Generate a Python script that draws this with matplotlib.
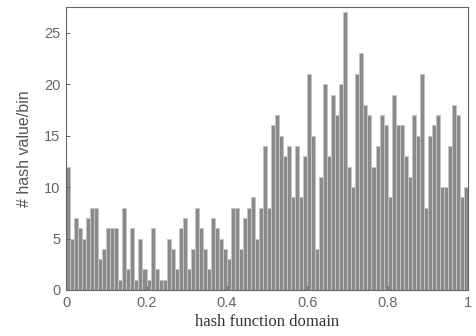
import matplotlib.pyplot as plt
import numpy as np

# hash counts per bin, 100 equal bins over [0, 1]
counts = [
    12, 5, 7, 6, 5, 7, 8, 8, 3, 4,
    6, 6, 6, 1, 8, 2, 6, 1, 5, 2,
    1, 6, 2, 1, 1, 5, 4, 2, 6, 7,
    2, 4, 8, 6, 4, 2, 7, 6, 5, 4,
    3, 8, 8, 4, 7, 8, 9, 5, 8, 14,
    8, 16, 17, 15, 13, 14, 9, 14, 9, 13,
    21, 15, 4, 11, 20, 13, 19, 17, 20, 27,
    12, 10, 21, 23, 18, 17, 12, 14, 17, 16,
    9, 19, 16, 16, 13, 11, 17, 15, 21, 8,
    15, 16, 17, 10, 10, 14, 18, 17, 9, 10,
]
x_ticks = [0, 0.2, 0.4, 0.6, 0.8, 1]
x_ticklabels = ["0", "0.2", "0.4", "0.6", "0.8", "1"]
y_ticks = [0, 5, 10, 15, 20, 25]

n_bins = len(counts)
edges = np.linspace(0, 1, n_bins + 1)

fig = plt.figure(figsize=(4.76, 3.36), dpi=100)
ax = fig.add_axes([0.139, 0.137, 0.844, 0.842])

ax.bar(edges[:-1], counts, width=edges[1] - edges[0], align="edge",
       facecolor="#8a8a8a", edgecolor="#c4c4c4", linewidth=0.7)

ax.set_xlim(0, 1)
ax.set_ylim(0, 27.5)
ax.set_xticks(x_ticks)
ax.set_xticklabels(x_ticklabels)
ax.set_yticks(y_ticks)
ax.tick_params(direction="in", length=3, colors="#666666", labelcolor="#666666",
               labelsize=10.5, pad=4, width=0.7)
for s in ax.spines.values():
    s.set_color("#666666")
    s.set_linewidth(0.8)
for lab in ax.get_xticklabels() + ax.get_yticklabels():
    lab.set_family("Liberation Sans")

ax.set_xlabel("hash function domain", family="Liberation Serif", fontsize=12,
              color="#333333", labelpad=3)
ax.set_ylabel("# hash value/bin", family="Liberation Sans", fontsize=11.5,
              color="#555555", labelpad=9)

fig.savefig("out.png", dpi=100)
